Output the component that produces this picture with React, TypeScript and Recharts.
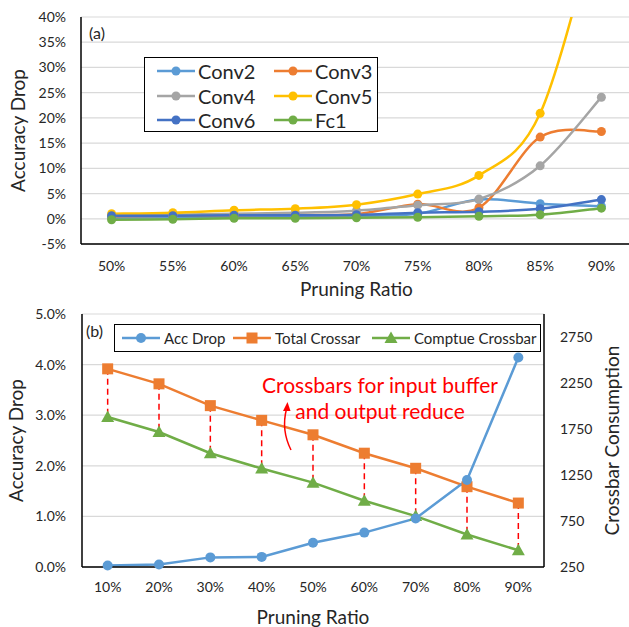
import React from 'react';
import {
    LineChart,
    Line,
    XAxis,
    YAxis,
    CartesianGrid,
    ReferenceLine
} from 'recharts';

// ---- chart (a) data ----
const ratiosA = ['50%', '55%', '60%', '65%', '70%', '75%', '80%', '85%', '90%'];
const conv2 = [0.2, 0.3, 0.4, 0.5, 0.6, 1.0, 3.8, 3.0, 2.5];
const conv3 = [0.5, 0.6, 0.7, 0.8, 0.9, 2.9, 2.2, 16.2, 17.3];
const conv4 = [0.6, 0.8, 1.0, 1.2, 1.6, 2.7, 3.9, 10.5, 24.1];
const conv5 = [1.0, 1.2, 1.7, 2.0, 2.8, 4.9, 8.6, 20.9, 62];
const conv6 = [0.6, 0.6, 0.7, 0.7, 0.8, 1.2, 1.4, 2.0, 3.8];
const fc1 = [-0.2, -0.1, 0.1, 0.1, 0.2, 0.3, 0.5, 0.8, 2.1];
const ticksA = [-5, 0, 5, 10, 15, 20, 25, 30, 35, 40];

// ---- chart (b) data ----
const ratiosB = ['10%', '20%', '30%', '40%', '50%', '60%', '70%', '80%', '90%'];
const accDrop = [0.03, 0.05, 0.19, 0.2, 0.48, 0.68, 0.96, 1.72, 4.14];
const totalCrossbar = [2404, 2241, 2004, 1844, 1687, 1487, 1323, 1123, 945];
const computeCrossbar = [1880, 1717, 1487, 1320, 1167, 970, 803, 603, 432];
const ticksLeftB = [0, 1, 2, 3, 4, 5];
const ticksRightB = [250, 750, 1250, 1750, 2250, 2750];

const seriesA = [
    { key: 'conv2', name: 'Conv2', color: '#5B9BD5', values: conv2 },
    { key: 'conv3', name: 'Conv3', color: '#ED7D31', values: conv3 },
    { key: 'conv4', name: 'Conv4', color: '#A5A5A5', values: conv4 },
    { key: 'conv5', name: 'Conv5', color: '#FFC000', values: conv5 },
    { key: 'conv6', name: 'Conv6', color: '#4472C4', values: conv6 },
    { key: 'fc1', name: 'Fc1', color: '#70AD47', values: fc1 }
];

const dataA = ratiosA.map((r, i) => {
    const row: any = { ratio: r };
    seriesA.forEach(s => { row[s.key] = s.values[i]; });
    return row;
});

const dataB = ratiosB.map((r, i) => ({
    ratio: r,
    acc: accDrop[i],
    total: totalCrossbar[i],
    compute: computeCrossbar[i]
}));

const FONT = 'Lato, "Liberation Sans", sans-serif';
const TEXT = '#262626';

// Excel-like smoothing (Catmull-Rom through the points)
const excelSmooth: any = (context: any) => {
    let pts: number[][] = [];
    return {
        areaStart() {},
        areaEnd() {},
        lineStart() { pts = []; },
        point(x: number, y: number) { pts.push([+x, +y]); },
        lineEnd() {
            if (!pts.length) return;
            context.moveTo(pts[0][0], pts[0][1]);
            for (let i = 0; i < pts.length - 1; i++) {
                const p0 = pts[i - 1] || pts[i];
                const p1 = pts[i];
                const p2 = pts[i + 1];
                const p3 = pts[i + 2] || p2;
                context.bezierCurveTo(
                    p1[0] + (p2[0] - p0[0]) / 6, p1[1] + (p2[1] - p0[1]) / 6,
                    p2[0] - (p3[0] - p1[0]) / 6, p2[1] - (p3[1] - p1[1]) / 6,
                    p2[0], p2[1]
                );
            }
        }
    };
};

const SquareDot = (props: any) => {
    const { cx, cy, index } = props;
    if (cx == null || cy == null) return <g key={index} />;
    return <rect key={index} x={cx - 5.5} y={cy - 5.5} width={11} height={11} fill="#ED7D31" />;
};

const TriangleDot = (props: any) => {
    const { cx, cy, index } = props;
    if (cx == null || cy == null) return <g key={index} />;
    return <polygon key={index} points={`${cx},${cy - 6.5} ${cx - 6.5},${cy + 5} ${cx + 6.5},${cy + 5}`} fill="#70AD47" />;
};

const boxLine = { stroke: '#000', strokeWidth: 1.5 };
const tickStyle = { fontSize: 14, fill: TEXT, fontFamily: FONT };
const titleStyle = { fontSize: 19, fill: TEXT, fontFamily: FONT };

function LegendA() {
    return (
        <div style={{
            position: 'absolute', left: 144, top: 57, width: 232, height: 73,
            border: '1.5px solid #000', background: '#fff'
        }}>
            {seriesA.map((s, i) => (
                <div key={s.key} style={{
                    position: 'absolute', left: 12 + (i % 2) * 117, top: 1 + Math.floor(i / 2) * 24.5,
                    height: 24, display: 'flex', alignItems: 'center'
                }}>
                    <svg width={40} height={12}>
                        <line x1={0} x2={38} y1={6} y2={6} stroke={s.color} strokeWidth={2.5} />
                        <circle cx={19} cy={6} r={4.5} fill={s.color} />
                    </svg>
                    <span style={{ fontSize: 20, fontFamily: FONT, color: TEXT, marginLeft: 1 }}>{s.name}</span>
                </div>
            ))}
        </div>
    );
}

const legendB = [
    { name: 'Acc Drop', color: '#5B9BD5', shape: 'circle' },
    { name: 'Total Crossar', color: '#ED7D31', shape: 'square' },
    { name: 'Comptue Crossbar', color: '#70AD47', shape: 'triangle' }
];
const legendBLeft = [7, 118, 257];

function LegendB() {
    return (
        <div style={{
            position: 'absolute', left: 114, top: 324, width: 425, height: 26,
            border: '1.5px solid #000', background: '#fff'
        }}>
            {legendB.map((s, i) => (
                <div key={s.name} style={{
                    position: 'absolute', left: legendBLeft[i], top: 0, height: 26,
                    display: 'flex', alignItems: 'center'
                }}>
                    <svg width={40} height={14}>
                        <line x1={0} x2={38} y1={7} y2={7} stroke={s.color} strokeWidth={2.5} />
                        {s.shape === 'circle' && <circle cx={19} cy={7} r={5} fill={s.color} />}
                        {s.shape === 'square' && <rect x={13.5} y={1.5} width={11} height={11} fill={s.color} />}
                        {s.shape === 'triangle' && <polygon points="19,0.5 12.5,12 25.5,12" fill={s.color} />}
                    </svg>
                    <span style={{ fontSize: 15, fontFamily: FONT, color: TEXT, marginLeft: 2 }}>{s.name}</span>
                </div>
            ))}
        </div>
    );
}

export default function App() {
    return (
        <div style={{
            position: 'absolute', left: 0, top: 0, width: 629, height: 627,
            overflow: 'hidden', background: '#fff', fontFamily: FONT
        }}>
            {/* (a) */}
            <div style={{ position: 'absolute', left: 0, top: 0 }}>
                <LineChart width={640} height={300} data={dataA} margin={{ top: 17, right: 8, bottom: 0, left: 0 }}>
                    <CartesianGrid vertical={false} stroke="#D9D9D9" strokeWidth={1.2} />
                    <XAxis dataKey="ratio" scale="band" height={56} axisLine={boxLine} tickLine={false} tickSize={0} tickMargin={17}
                        tick={tickStyle} interval={0}
                        label={{ value: 'Pruning Ratio', position: 'insideBottom', offset: 4, style: titleStyle }} />
                    <XAxis xAxisId="top" dataKey="ratio" scale="band" orientation="top" height={0} axisLine={boxLine} tick={false} tickLine={false} />
                    <YAxis width={81} domain={[-5, 40]} ticks={ticksA} allowDataOverflow axisLine={boxLine}
                        tickLine={false} tickSize={0} tickMargin={15} tick={tickStyle}
                        tickFormatter={(v) => `${v}%`}
                        label={{ value: 'Accuracy Drop', angle: -90, position: 'insideLeft', offset: 18, style: { ...titleStyle, textAnchor: 'middle' } }} />
                    {seriesA.map(s => (
                        <Line key={s.key} dataKey={s.key} type={excelSmooth} stroke={s.color} strokeWidth={2.5}
                            dot={{ r: 4.5, fill: s.color, stroke: s.color, strokeWidth: 0 }}
                            activeDot={false} isAnimationActive={false} />
                    ))}
                </LineChart>
            </div>
            <LegendA />

            {/* (b) */}
            <div style={{ position: 'absolute', left: 0, top: 300 }}>
                <LineChart width={629} height={327} data={dataB} margin={{ top: 14, right: 0, bottom: 0, left: 0 }}>
                    <CartesianGrid vertical={false} yAxisId="left" stroke="#D9D9D9" strokeWidth={1.2} />
                    <XAxis dataKey="ratio" scale="band" height={60} axisLine={boxLine} tickLine={false} tickSize={0} tickMargin={15}
                        tick={tickStyle} interval={0}
                        label={{ value: 'Pruning Ratio', position: 'insideBottom', offset: 3, style: titleStyle }} />
                    <XAxis xAxisId="top" dataKey="ratio" scale="band" orientation="top" height={0} axisLine={boxLine} tick={false} tickLine={false} />
                    <YAxis yAxisId="left" width={82} domain={[0, 5]} ticks={ticksLeftB} axisLine={boxLine}
                        tickLine={false} tickSize={0} tickMargin={16} tick={tickStyle}
                        tickFormatter={(v) => `${v.toFixed(1)}%`}
                        label={{ value: 'Accuracy Drop', angle: -90, position: 'insideLeft', offset: 16, style: { ...titleStyle, textAnchor: 'middle' } }} />
                    <YAxis yAxisId="right" orientation="right" width={85} domain={[250, 3000]} ticks={ticksRightB}
                        axisLine={boxLine} tickLine={false} tickSize={0} tickMargin={16} tick={tickStyle}
                        label={{ value: 'Crossbar Consumption', angle: -90, position: 'insideRight', offset: 17, style: { ...titleStyle, textAnchor: 'middle' } }} />
                    {ratiosB.map((r, i) => (
                        <ReferenceLine key={r} yAxisId="right"
                            segment={[{ x: r, y: totalCrossbar[i] }, { x: r, y: computeCrossbar[i] }]}
                            stroke="#FF0000" strokeWidth={1.5} strokeDasharray="6 4" />
                    ))}
                    <Line yAxisId="right" dataKey="total" type="linear" stroke="#ED7D31" strokeWidth={2.5}
                        dot={SquareDot} activeDot={false} isAnimationActive={false} />
                    <Line yAxisId="right" dataKey="compute" type="linear" stroke="#70AD47" strokeWidth={2.5}
                        dot={TriangleDot} activeDot={false} isAnimationActive={false} />
                    <Line yAxisId="left" dataKey="acc" type="linear" stroke="#5B9BD5" strokeWidth={2.5}
                        dot={{ r: 5, fill: '#5B9BD5', stroke: '#5B9BD5', strokeWidth: 0 }}
                        activeDot={false} isAnimationActive={false} />
                </LineChart>
            </div>
            <LegendB />

            {/* annotations */}
            <svg width={629} height={627} style={{ position: 'absolute', left: 0, top: 0, pointerEvents: 'none' }}>
                <text x={89} y={39} fontSize={16} fill={TEXT} fontFamily={FONT}>(a)</text>
                <text x={86} y={337} fontSize={16} fill={TEXT} fontFamily={FONT}>(b)</text>
                <text x={380} y={393} fontSize={21} fill="#FF0000" fontFamily={FONT} textAnchor="middle">Crossbars for input buffer</text>
                <text x={380} y={419} fontSize={21} fill="#FF0000" fontFamily={FONT} textAnchor="middle">and output reduce</text>
                <path d="M 291 450 Q 281 430 286.5 409" stroke="#FF0000" strokeWidth={1.5} fill="none" />
                <polygon points="287.5,402 283,411 290.5,411" fill="#FF0000" />
            </svg>
        </div>
    );
}
